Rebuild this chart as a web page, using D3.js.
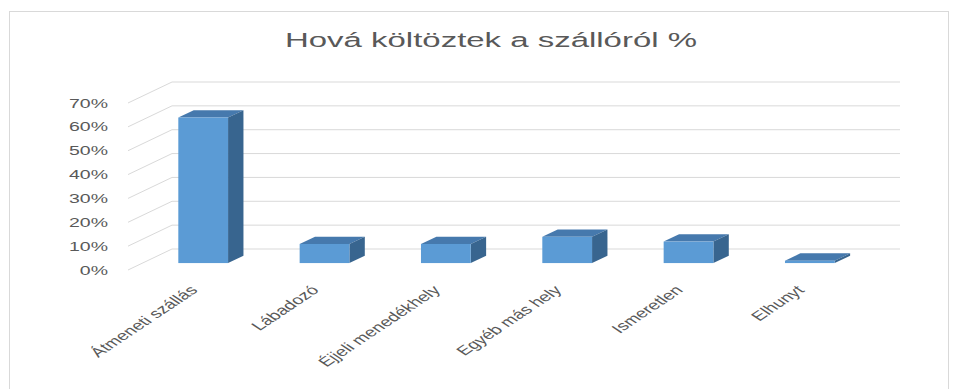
<!DOCTYPE html>
<html>
<head>
<meta charset="utf-8">
<script src="https://cdn.jsdelivr.net/npm/d3@7"></script>
<style>
  html, body { margin: 0; padding: 0; background: #fff; }
  svg { display: block; }
  text { font-family: "Liberation Sans", Arial, sans-serif; fill: #595959; }
</style>
</head>
<body>
<script>
// Where residents moved after leaving the hostel (%)
const categories = ["Átmeneti szállás", "Lábadozó", "Éjjeli menedékhely", "Egyéb más hely", "Ismeretlen", "Elhunyt"];
const values = [61, 8, 8, 11, 9, 1];
const tickValues = [0, 10, 20, 30, 40, 50, 60, 70];
const title = "Hová költöztek a szállóról %";

const W = 958, H = 389;
const stretch = 1.5;                 // wide text rendering of the chart
const depth = { dx: 44, dy: -21 };   // oblique offset from front to back wall
const barDepth0 = 0.33, barDepth1 = 0.68;

const svg = d3.select("body").append("svg").attr("width", W).attr("height", H);

// chart area border
svg.append("rect")
  .attr("x", 9.5).attr("y", 11.5).attr("width", 939).attr("height", 390)
  .attr("fill", "#fff").attr("stroke", "#d9d9d9").attr("stroke-width", 1);

// title
svg.append("text")
  .attr("transform", `translate(491,47) scale(${stretch},1)`)
  .attr("text-anchor", "middle")
  .attr("font-size", 19.5)
  .attr("textLength", 412 / stretch)
  .attr("lengthAdjust", "spacingAndGlyphs")
  .attr("fill", "#606060")
  .text(title);

// scales on the front plane
const y = d3.scaleLinear().domain([0, 70]).range([270, 103]);
const x = d3.scaleBand().domain(categories).range([128, 856])
  .paddingInner(0.59).paddingOuter(0.295);

const off = t => [depth.dx * t, depth.dy * t];

// walls: side diagonals + back gridlines
const grid = svg.append("g").attr("stroke", "#d9d9d9").attr("stroke-width", 1).attr("fill", "none");
tickValues.forEach(v => {
  const yf = y(v), yb = y(v) + depth.dy;
  grid.append("line")
    .attr("x1", 128).attr("y1", yf).attr("x2", 128 + depth.dx).attr("y2", yb);
  grid.append("line")
    .attr("x1", 128 + depth.dx).attr("y1", yb).attr("x2", 900).attr("y2", yb);
});

// y axis labels
svg.append("g").selectAll("text").data(tickValues).join("text")
  .attr("transform", d => `translate(108,${y(d) + 4.5}) scale(${stretch},1)`)
  .attr("text-anchor", "end")
  .attr("font-size", 13)
  .text(d => d + "%");

// 3D bars
const bars = svg.append("g");
categories.forEach((c, i) => {
  const v = values[i];
  const [ox0, oy0] = off(barDepth0);
  const [ox1, oy1] = off(barDepth1);
  const xl = x(c) + ox0, xr = x(c) + x.bandwidth() + ox0;
  const yt = y(v) + oy0, yb = y(0) + oy0;
  const ddx = ox1 - ox0, ddy = oy1 - oy0;
  // top face
  bars.append("path")
    .attr("d", `M${xl},${yt}L${xr},${yt}L${xr + ddx},${yt + ddy}L${xl + ddx},${yt + ddy}Z`)
    .attr("fill", "#4679ad");
  // side face
  bars.append("path")
    .attr("d", `M${xr},${yt}L${xr + ddx},${yt + ddy}L${xr + ddx},${yb + ddy}L${xr},${yb}Z`)
    .attr("fill", "#38658f");
  // front face
  bars.append("rect")
    .attr("x", xl).attr("y", yt).attr("width", xr - xl).attr("height", yb - yt)
    .attr("fill", "#5b9bd5");
});

// category labels
svg.append("g").selectAll("text").data(categories).join("text")
  .attr("transform", d => `translate(${x(d) + x.bandwidth() / 2 + 10},291) scale(${stretch},1) rotate(-45)`)
  .attr("text-anchor", "end")
  .attr("font-size", 13)
  .text(d => d);
</script>
</body>
</html>
